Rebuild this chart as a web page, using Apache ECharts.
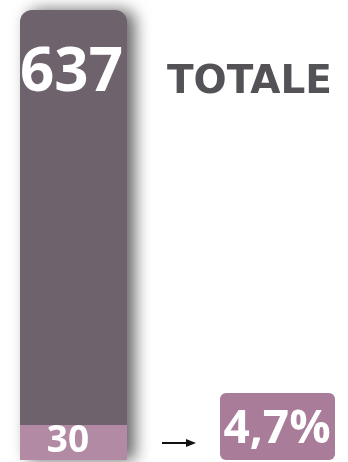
<!DOCTYPE html>
<html>
<head>
<meta charset="utf-8">
<style>
  html, body { margin: 0; padding: 0; background: #ffffff; }
  #chart { width: 348px; height: 462px; }
</style>
<script src="https://cdn.jsdelivr.net/npm/echarts@6/dist/echarts.min.js"></script>
</head>
<body>
<div id="chart"></div>
<script>
// Totale e quota evidenziata
const categories = ['TOTALE'];
const totalValues = [637];
const partValues = [30];

const DARK = '#6e636d';
const PINK = '#b38aa3';
const BOX = '#a97c99';

const share = partValues[0] / totalValues[0] * 100;
const shareText = share.toFixed(1).replace('.', ',') + '%';

const chart = echarts.init(document.getElementById('chart'), null, { renderer: 'canvas' });

chart.setOption({
  animation: false,
  backgroundColor: '#ffffff',
  grid: { left: 20, right: 221, top: 10, bottom: 2 },
  xAxis: {
    type: 'category',
    data: categories,
    show: false
  },
  yAxis: {
    type: 'value',
    min: 0,
    max: totalValues[0],
    show: false
  },
  title: {
    text: categories[0],
    left: 162,
    top: 58,
    textStyle: {
      fontFamily: 'DejaVu Sans',
      fontWeight: 'bold',
      fontSize: 39,
      color: '#545256'
    }
  },
  series: [
    {
      name: 'totale',
      type: 'bar',
      barWidth: '100%',
      data: totalValues,
      itemStyle: {
        color: DARK,
        borderRadius: [12, 12, 0, 0],
        shadowBlur: 16,
        shadowColor: 'rgba(0,0,0,0.6)',
        shadowOffsetX: 8
      },
      label: {
        show: true,
        position: 'insideTop',
        distance: 34,
        offset: [-2, 0],
        fontFamily: 'Open Sans',
        fontWeight: 'bold',
        fontSize: 60,
        color: '#ffffff'
      }
    },
    {
      name: 'quota',
      type: 'bar',
      barWidth: '100%',
      barGap: '-100%',
      data: partValues,
      itemStyle: { color: PINK },
      label: {
        show: true,
        position: 'insideBottom',
        distance: 0,
        width: 96,
        height: 35,
        lineHeight: 37,
        align: 'center',
        backgroundColor: PINK,
        padding: [0, 11, 0, 0],
        fontFamily: 'Open Sans',
        fontWeight: 'bold',
        fontSize: 37,
        color: '#ffffff'
      }
    }
  ],
  graphic: [
    {
      type: 'line',
      shape: { x1: 162, y1: 443, x2: 189, y2: 443 },
      style: { stroke: '#111111', lineWidth: 2 }
    },
    {
      type: 'polygon',
      shape: { points: [[186, 439], [196, 443], [186, 447]] },
      style: { fill: '#111111' }
    },
    {
      type: 'group',
      left: 220,
      top: 393,
      children: [
        {
          type: 'rect',
          shape: { x: 0, y: 0, width: 115, height: 67, r: 6 },
          style: { fill: BOX }
        },
        {
          type: 'text',
          x: 57,
          y: 37,
          style: {
            text: shareText,
            align: 'center',
            verticalAlign: 'middle',
            fontFamily: 'Open Sans',
            fontWeight: 'bold',
            fontSize: 46,
            fill: '#ffffff'
          }
        }
      ]
    }
  ]
});
</script>
</body>
</html>
